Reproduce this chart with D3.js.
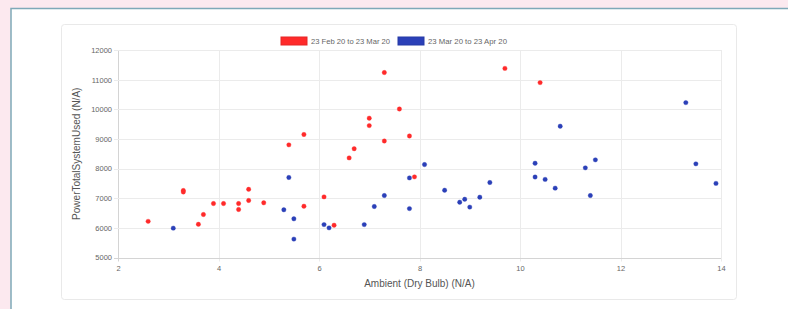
<!DOCTYPE html>
<html>
<head>
<meta charset="utf-8">
<script src="https://cdn.jsdelivr.net/npm/d3@7"></script>
<style>
body{margin:0;background:#fce9ef;font-family:"Liberation Sans",Arial,sans-serif;}
svg{display:block;}
</style>
</head>
<body>
<div id="chart"></div>
<script>
var w=788
var h=309

//Data
var seriesNames=["23 Feb 20 to 23 Mar 20","23 Mar 20 to 23 Apr 20"]
var seriesColors=["#ff2a2a","#2b40b8"]

var febX=[2.6,3.3,3.3,3.6,3.7,3.9,4.1,4.4,4.4,4.6,4.6,4.9,5.4,5.7,5.7,6.1,6.3,6.6,6.7,7.0,7.0,7.3,7.3,7.6,7.8,7.9,9.7,10.4]
var febY=[6220,7260,7210,6120,6450,6820,6820,6820,6620,7300,6925,6845,8800,9150,6730,7045,6090,8360,8670,9700,9450,11240,8930,10010,9100,7720,11380,10900]

var marX=[3.1,5.3,5.4,5.5,5.5,6.1,6.2,6.9,7.1,7.3,7.8,7.8,8.1,8.5,8.8,8.9,9.0,9.2,9.4,10.3,10.3,10.5,10.7,10.8,11.3,11.4,11.5,13.3,13.5,13.9]
var marY=[5990,6610,7700,6305,5620,6110,6000,6110,6720,7090,7685,6650,8135,7270,6865,6965,6700,7035,7530,8180,7715,7635,7340,9430,8025,7090,8295,10225,8160,7500]

var xTicks=[2,4,6,8,10,12,14]
var yTicks=[5000,6000,7000,8000,9000,10000,11000,12000]

var series=[
  {name:seriesNames[0],color:seriesColors[0],pts:febX.map(function(x,i){return {x:x,y:febY[i]};})},
  {name:seriesNames[1],color:seriesColors[1],pts:marX.map(function(x,i){return {x:x,y:marY[i]};})}
]

var svg=d3.select("#chart")
          .append("svg")
          .attr("width",w)
          .attr("height",h);

//Outer white panel with a teal edge
svg.append("rect")
   .attr("x",11).attr("y",8.5)
   .attr("width",w).attr("height",h)
   .attr("fill","white")
   .attr("stroke","#7fa9b8")
   .attr("stroke-width",1.5);

//Inner card
svg.append("rect")
   .attr("x",61.5).attr("y",24.5)
   .attr("width",675).attr("height",275)
   .attr("rx",3)
   .attr("fill","white")
   .attr("stroke","#e9e9e9");

var plotLeft=118, plotRight=721, plotTop=50, plotBottom=257.5

var xScale=d3.scaleLinear()
             .domain([2,14])
             .range([plotLeft,plotRight]);

var yScale=d3.scaleLinear()
             .domain([5000,12000])
             .range([plotBottom,plotTop]);

//Grid lines
var grid=svg.append("g").attr("class","grid");
grid.selectAll(".vgrid")
    .data(xTicks)
    .enter()
    .append("line")
    .attr("x1",function(d){return Math.round(xScale(d))+0.5;})
    .attr("x2",function(d){return Math.round(xScale(d))+0.5;})
    .attr("y1",plotTop)
    .attr("y2",plotBottom+4)
    .attr("stroke",function(d){return d==2?"#d4d4d4":"#ebebeb";});

grid.selectAll(".hgrid")
    .data(yTicks)
    .enter()
    .append("line")
    .attr("x1",plotLeft-4)
    .attr("x2",plotRight)
    .attr("y1",function(d){return Math.round(yScale(d))+0.5;})
    .attr("y2",function(d){return Math.round(yScale(d))+0.5;})
    .attr("stroke",function(d){return d==5000?"#d4d4d4":"#ebebeb";});

//Axes (labels only, grid drawn above)
var xAxis=d3.axisBottom(xScale).tickValues(xTicks).tickSize(0).tickPadding(8);
var yAxis=d3.axisLeft(yScale).tickValues(yTicks).tickSize(0).tickPadding(6).tickFormat(d3.format("d"));

svg.append("g")
   .attr("class","axis")
   .attr("transform","translate(0,"+plotBottom+")")
   .call(xAxis);
svg.append("g")
   .attr("class","axis")
   .attr("transform","translate("+plotLeft+",0)")
   .call(yAxis);
svg.selectAll(".axis .domain").remove();
svg.selectAll(".axis text")
   .attr("fill","#666")
   .style("font-family","'Liberation Sans',Arial,sans-serif")
   .style("font-size","7.5px");

//Points
series.forEach(function(s){
  svg.append("g")
     .selectAll("circle")
     .data(s.pts)
     .enter()
     .append("circle")
     .attr("cx",function(d){return xScale(d.x);})
     .attr("cy",function(d){return yScale(d.y);})
     .attr("r",2.2)
     .attr("fill",s.color)
     .attr("stroke",s.color)
     .attr("stroke-opacity",0.35)
     .attr("stroke-width",1);
});

//Axis titles
svg.append("text")
   .attr("x",(plotLeft+plotRight)/2)
   .attr("y",287)
   .attr("text-anchor","middle")
   .attr("fill","#555")
   .style("font-size","10px")
   .text("Ambient (Dry Bulb) (N/A)");

svg.append("text")
   .attr("transform","translate(80,"+((plotTop+plotBottom)/2)+") rotate(-90)")
   .attr("text-anchor","middle")
   .attr("fill","#555")
   .style("font-size","10px")
   .text("PowerTotalSystemUsed (N/A)");

//Legend
var legend=svg.append("g").attr("class","legend");
var lx=[281,398];
series.forEach(function(s,i){
  legend.append("rect")
        .attr("x",lx[i]).attr("y",37)
        .attr("width",26).attr("height",8)
        .attr("fill",s.color)
        .attr("stroke",d3.color(s.color).darker(0.3));
  legend.append("text")
        .attr("x",lx[i]+30).attr("y",44)
        .attr("fill","#666")
        .attr("textLength",79)
        .attr("lengthAdjust","spacingAndGlyphs")
        .style("font-size","8px")
        .text(s.name);
});
</script>
</body>
</html>
